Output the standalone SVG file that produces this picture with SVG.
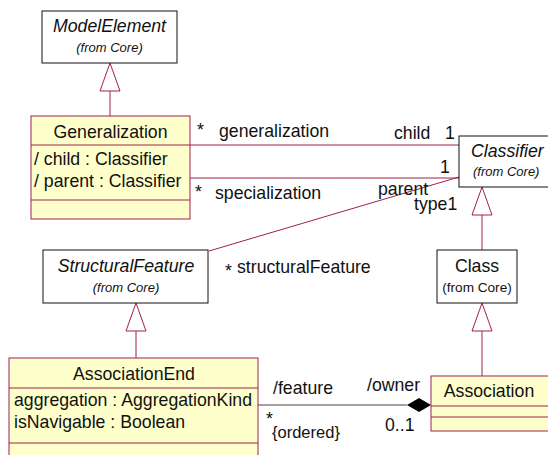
<svg xmlns="http://www.w3.org/2000/svg" width="548" height="455" viewBox="0 0 548 455">
<style>
text{font-family:"Liberation Sans",Arial,sans-serif;font-size:17.7px;fill:#111}
.it{font-style:italic}
.sm{font-size:13px}
.box{fill:#fff;stroke:#111;stroke-width:1}
.ybox{fill:#ffffcc;stroke:#a0204c;stroke-width:1}
.sep{stroke:#a0204c;stroke-width:1}
.con{stroke:#a0204c;stroke-width:1;fill:none}
.tri{fill:#fff;stroke:#a0204c;stroke-width:1}
</style>
<rect width="548" height="455" fill="#fff"/>
<g id="connectors">
<line class="con" x1="110" y1="91" x2="110" y2="116"/>
<polygon class="tri" points="110,63 100,91 120,91"/>
<line class="con" x1="190" y1="145" x2="459" y2="145"/>
<line class="con" x1="190" y1="178" x2="459" y2="178"/>
<line class="con" x1="459" y1="177" x2="209" y2="251"/>
<line class="con" x1="482" y1="215" x2="482" y2="250"/>
<polygon class="tri" points="482,187 472,215 492,215"/>
<line class="con" x1="482" y1="331" x2="482" y2="376"/>
<polygon class="tri" points="482,303 472,331 492,331"/>
<line class="con" x1="136" y1="331" x2="136" y2="358"/>
<polygon class="tri" points="136,303 126,331 146,331"/>
<line x1="258" y1="405" x2="407" y2="405" stroke="#444" stroke-width="1"/>
<polygon points="407,405 419,398 431,405 419,412" fill="#000"/>
<text x="197" y="136">*</text>
<text x="219" y="137">generalization</text>
<text x="394" y="139">child</text>
<text x="445" y="139">1</text>
<text x="440" y="173">1</text>
<text x="195" y="198">*</text>
<text x="215" y="199">specialization</text>
<text x="378" y="195">parent</text>
<text x="414" y="210">type1</text>
<text x="225" y="277">*</text>
<text x="237" y="273">structuralFeature</text>
<text x="273" y="394">/feature</text>
<text x="367" y="391">/owner</text>
<text x="266" y="425">*</text>
<text x="272" y="438" style="font-size:16.5px">{ordered}</text>
<text x="385" y="431">0..1</text>
</g>
<g id="ModelElement">
<rect class="box" x="42" y="11" width="135" height="52"/>
<text class="it" x="109.5" y="32" text-anchor="middle">ModelElement</text>
<text class="it sm" x="109.5" y="52" text-anchor="middle">(from Core)</text>
</g>
<g id="Generalization">
<rect class="ybox" x="31" y="116" width="159" height="103"/>
<line class="sep" x1="31" y1="145" x2="190" y2="145"/>
<line class="sep" x1="31" y1="200" x2="190" y2="200"/>
<text x="110.5" y="138" text-anchor="middle">Generalization</text>
<text x="34" y="165">/ child : Classifier</text>
<text x="34" y="187">/ parent : Classifier</text>
</g>
<g id="Classifier">
<rect class="box" x="459" y="136" width="95" height="51"/>
<text class="it" x="471" y="157">Classifier</text>
<text class="it sm" x="473" y="176">(from Core)</text>
</g>
<g id="Class">
<rect class="box" x="437" y="250" width="80" height="53"/>
<text x="477" y="272" text-anchor="middle">Class</text>
<text x="477" y="292" text-anchor="middle" style="font-size:13.6px">(from Core)</text>
</g>
<g id="StructuralFeature">
<rect class="box" x="43" y="250" width="165" height="53"/>
<text class="it" x="126" y="272" text-anchor="middle">StructuralFeature</text>
<text class="it sm" x="126" y="292" text-anchor="middle">(from Core)</text>
</g>
<g id="AssociationEnd">
<rect class="ybox" x="9" y="358" width="249" height="110"/>
<line class="sep" x1="9" y1="388" x2="258" y2="388"/>
<line class="sep" x1="9" y1="443" x2="258" y2="443"/>
<text x="134" y="380" text-anchor="middle">AssociationEnd</text>
<text x="14" y="406">aggregation : AggregationKind</text>
<text x="14" y="428">isNavigable : Boolean</text>
</g>
<g id="Association">
<rect class="ybox" x="431" y="376" width="120" height="55"/>
<line class="sep" x1="431" y1="406" x2="551" y2="406"/>
<line class="sep" x1="431" y1="417" x2="551" y2="417"/>
<text x="489" y="397" text-anchor="middle">Association</text>
</g>
</svg>
